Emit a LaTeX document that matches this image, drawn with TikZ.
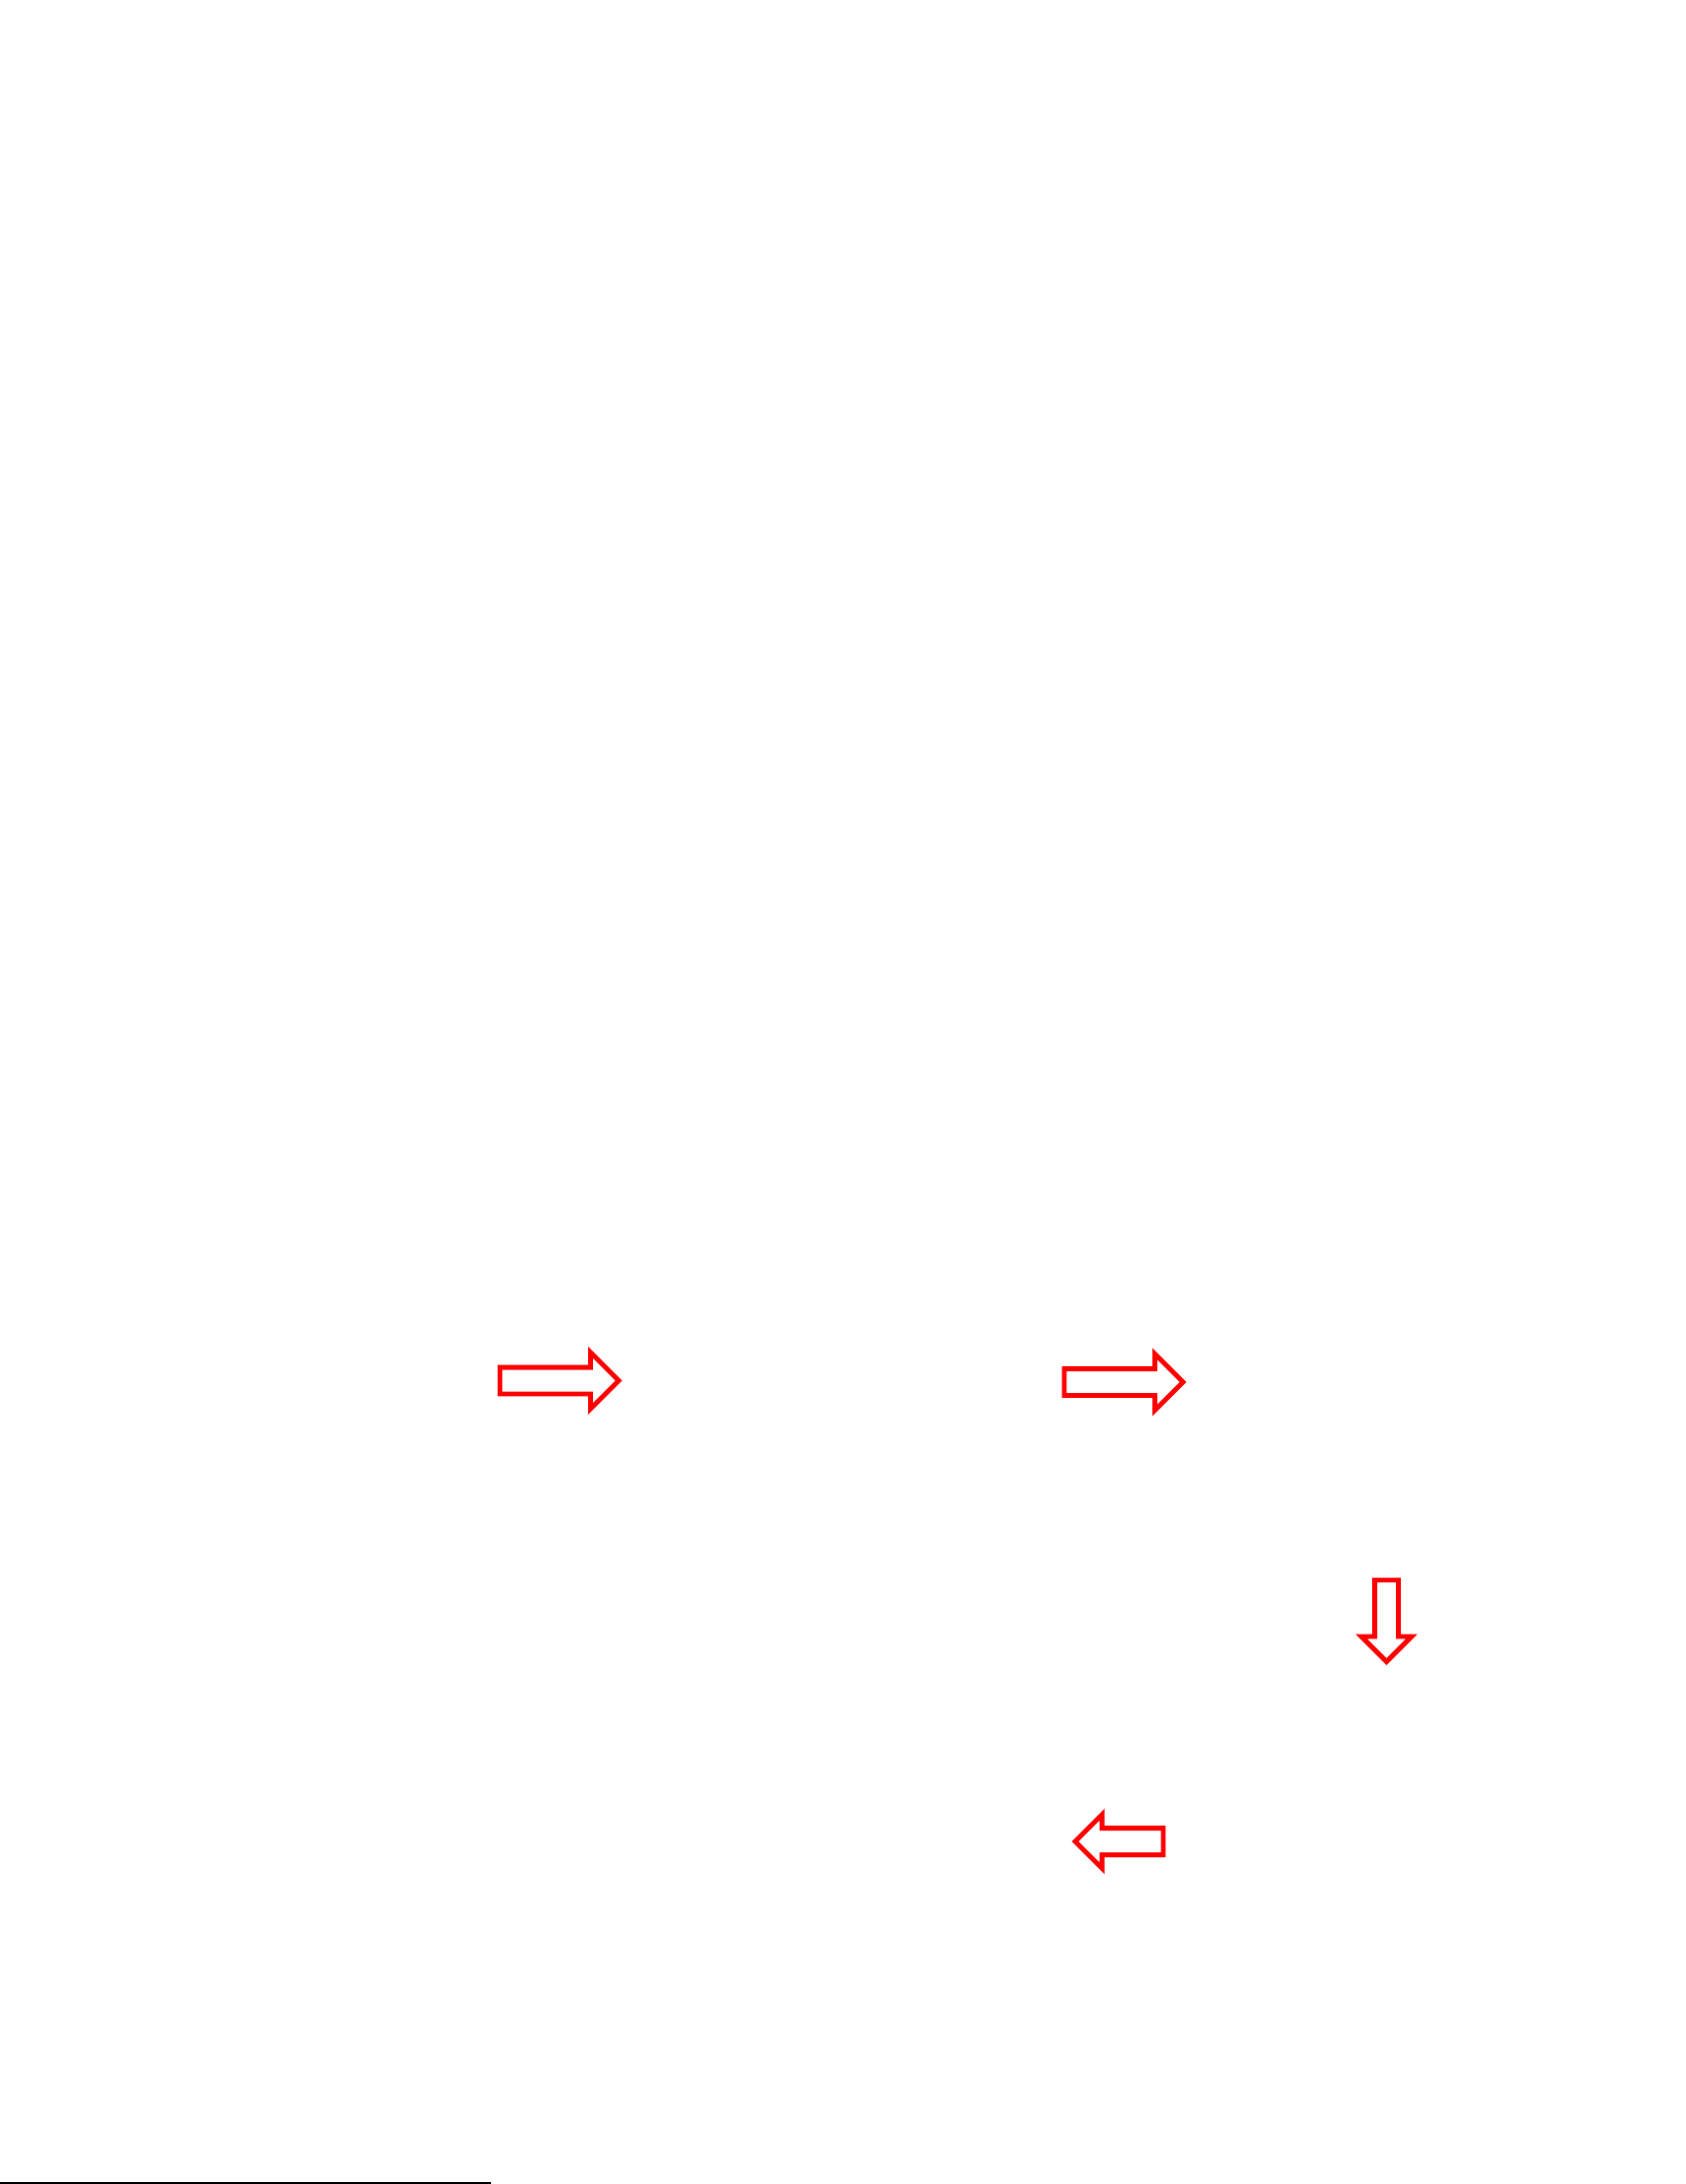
\documentclass[tikz,border=0pt]{standalone}
\usepackage{xcolor}
\usepackage{tikz}
\usetikzlibrary{shapes.arrows}

\begin{document}
\begin{tikzpicture}[x=0.3596pt, y=-0.3596pt,
	hollow arrow/.style={single arrow, draw=red, fill=white, line width=1.75pt,
		inner xsep=0pt, outer sep=0pt, minimum width=1pt},
	long arrow/.append style={minimum height=43.15pt, inner ysep=3.96pt, single arrow head extend=5.4pt},]

\useasboundingbox (0,0) rectangle (1702,2206);

\node [hollow arrow, long arrow, anchor=tail] (first) at (505,1394.5) {};
\node [hollow arrow, long arrow, anchor=tail] (second) at (1075,1396) {};
\node [hollow arrow, rotate=-90, minimum height=29.6pt, inner ysep=3.42pt,
	single arrow head extend=4.8pt, anchor=tail] (down) at (1400.5,1596) {};
\node [hollow arrow, rotate=180, minimum height=32pt, inner ysep=3.96pt,
	single arrow head extend=4.9pt, anchor=tail] (back) at (1175,1860) {};

    % rule at the foot of the page
    \coordinate (rule start) at (0,2205);
    \coordinate (rule end) at (496,2205);
    \draw [line width=0.8pt] (rule start) -- (rule end);

\end{tikzpicture}
\end{document}
